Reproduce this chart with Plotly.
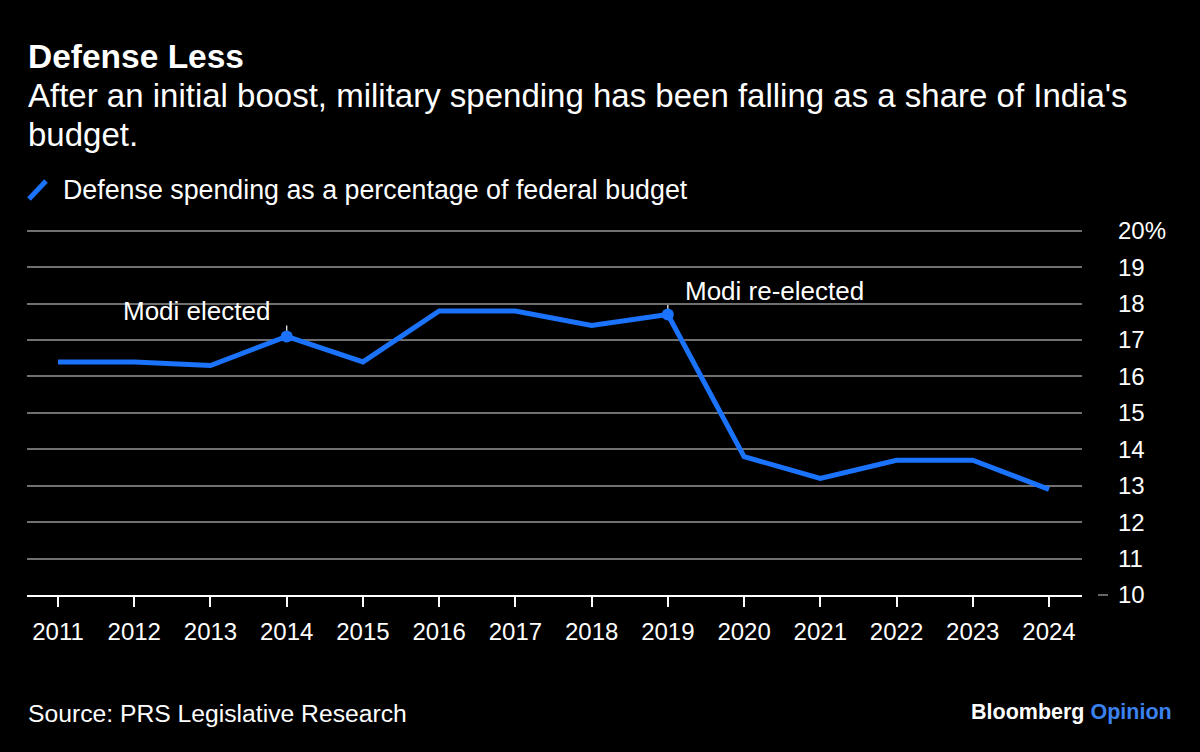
import plotly.graph_objects as go

years = [2011, 2012, 2013, 2014, 2015, 2016, 2017, 2018, 2019, 2020, 2021, 2022, 2023, 2024]
share = [16.4, 16.4, 16.3, 17.1, 16.4, 17.8, 17.8, 17.4, 17.7, 13.8, 13.2, 13.7, 13.7, 12.9]
ytick_vals = [10, 11, 12, 13, 14, 15, 16, 17, 18, 19, 20]
ytick_text = ["10", "11", "12", "13", "14", "15", "16", "17", "18", "19", "20%"]
events = [(2014, "Modi elected"), (2019, "Modi re-elected")]

W, H = 1200, 752
L, R, T, B = 27, 1082, 229, 595
YMIN, YMAX = 10, 20.05
FONT = "Liberation Sans, Arial, sans-serif"
BLUE = "#1b72fb"


def px(x):
    return (x - L) / (R - L)


def py(y):
    return (B - y) / (B - T)


fig = go.Figure()
fig.add_trace(go.Scatter(x=years, y=share, mode="lines",
                         line=dict(color=BLUE, width=5),
                         hoverinfo="skip", showlegend=False))

ev_x = [e[0] for e in events]
ev_y = [share[years.index(e[0])] for e in events]
fig.add_trace(go.Scatter(x=ev_x, y=ev_y, mode="markers",
                         marker=dict(color=BLUE, size=12),
                         hoverinfo="skip", showlegend=False))

shapes = []
for xv, yv in zip(ev_x, ev_y):
    shapes.append(dict(type="line", xref="x", yref="y", x0=xv, x1=xv, y0=yv + 0.12, y1=yv + 0.3,
                       line=dict(color="white", width=1.2), layer="below"))
# legend swatch
shapes.append(dict(type="line", xref="paper", yref="paper", x0=px(29), x1=px(46), y0=py(199), y1=py(181),
                   line=dict(color=BLUE, width=5)))
# tick dash for 10
shapes.append(dict(type="line", xref="paper", yref="paper", x0=px(1098), x1=px(1108), y0=0, y1=0,
                   line=dict(color="#888888", width=1.5)))

annotations = [
    dict(text="<b>Defense Less</b>", x=px(26), y=py(57), xanchor="left", yanchor="middle",
         font=dict(size=33.5, color="white", family=FONT)),
    dict(text="After an initial boost, military spending has been falling as a share of India's",
         x=px(26), y=py(96), xanchor="left", yanchor="middle",
         font=dict(size=33, color="white", family=FONT)),
    dict(text="budget.",
         x=px(26), y=py(134), xanchor="left", yanchor="middle",
         font=dict(size=33, color="white", family=FONT)),
    dict(text="Defense spending as a percentage of federal budget", x=px(61), y=py(190),
         xanchor="left", yanchor="middle", font=dict(size=26.8, color="white", family=FONT)),
    dict(text="Source: PRS Legislative Research", x=px(26), y=py(713), xanchor="left", yanchor="middle",
         font=dict(size=24.7, color="white", family=FONT)),
    dict(text="<b>Bloomberg</b> <span style='color:#3b82f0'><b>Opinion</b></span>", x=px(1174), y=py(712),
         xanchor="right", yanchor="middle", font=dict(size=21.5, color="white", family=FONT)),
]
ann_pos = [("right", -15, 25), ("left", 15, 24)]
for (xv, label), yv, (anc, xs, ys) in zip(events, ev_y, ann_pos):
    annotations.append(dict(text=label, x=xv, y=yv, xref="x", yref="y", xanchor=anc, yanchor="middle",
                            xshift=xs, yshift=ys, showarrow=False,
                            font=dict(size=26, color="white", family=FONT)))
for a in annotations:
    a.setdefault("xref", "paper")
    a.setdefault("yref", "paper")
    a["showarrow"] = False

fig.update_layout(
    width=W, height=H,
    margin=dict(l=L, r=W - R, t=T, b=H - B, pad=0),
    paper_bgcolor="black", plot_bgcolor="black",
    font=dict(family=FONT, color="white", size=24),
    shapes=shapes, annotations=annotations,
    showlegend=False,
    xaxis=dict(range=[2010.593, 2024.433], tickmode="array", tickvals=years,
               ticktext=[str(y) for y in years], showgrid=False, zeroline=False,
               showline=True, linecolor="white", linewidth=2,
               ticks="outside", ticklen=10, tickwidth=1.5, tickcolor="white",
               ticklabelstandoff=4,
               tickfont=dict(size=24, color="white", family=FONT), fixedrange=True),
    yaxis=dict(range=[YMIN, YMAX], side="right", tickmode="array", tickvals=ytick_vals,
               ticktext=ytick_text, showgrid=True, gridcolor="#707070", gridwidth=1.5,
               zeroline=False, showline=False, ticks="", ticklabelstandoff=35,
               tickfont=dict(size=24, color="white", family=FONT), fixedrange=True),
)

fig.write_html("out.html", config={"displayModeBar": False},
               post_script="document.body.style.margin='0';document.body.style.background='black';")
